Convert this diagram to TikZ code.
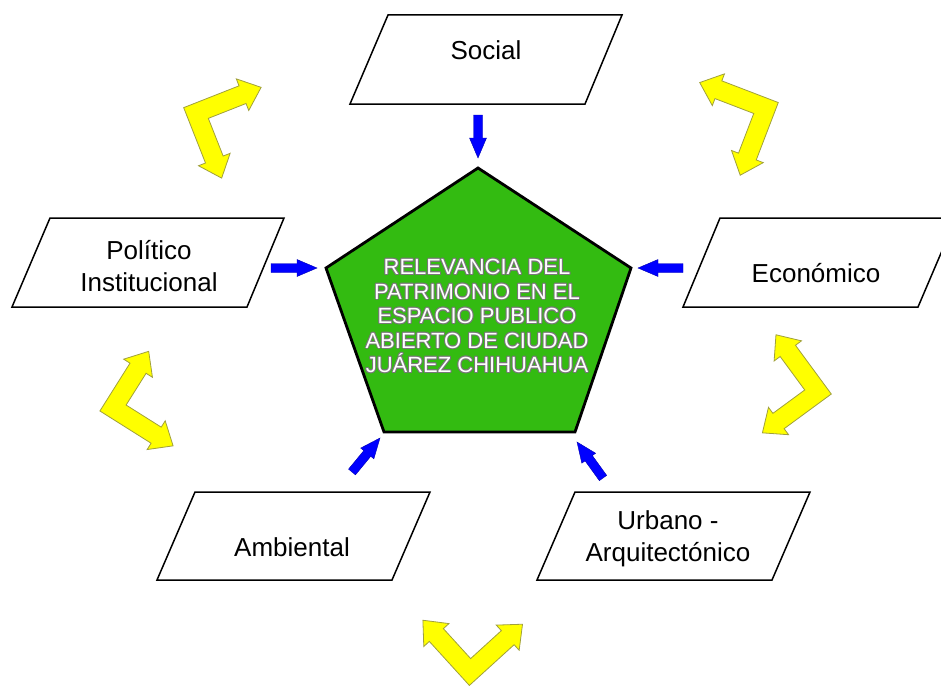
\documentclass[tikz,border=0pt]{standalone}
\usepackage{fontspec}
\setmainfont{Liberation Sans}
\usetikzlibrary{calc}
\definecolor{pgreen}{RGB}{51,187,17}
\definecolor{yfill}{RGB}{255,255,0}
\definecolor{yedge}{RGB}{160,160,60}
\definecolor{tedge}{RGB}{120,120,120}
\newcommand\ocopy[3]{\makebox[0pt][l]{\kern#1\raisebox{#2}{\textcolor{tedge}{#3}}}}
\newcommand\outl[1]{\ocopy{1pt}{0pt}{#1}\ocopy{-1pt}{0pt}{#1}\ocopy{0pt}{1pt}{#1}\ocopy{0pt}{-1pt}{#1}\ocopy{0.7pt}{0.7pt}{#1}\ocopy{-0.7pt}{0.7pt}{#1}\ocopy{0.7pt}{-0.7pt}{#1}\ocopy{-0.7pt}{-0.7pt}{#1}\textcolor{white}{#1}}
\tikzset{
  box/.style={draw=black, line width=1.5pt, line join=miter, fill=white},
  lbl/.style={inner sep=0pt, align=center, font=\fontsize{26}{31.5}\selectfont},
  pent/.style={draw=black, line width=2.8pt, fill=pgreen, line join=miter},
  ptext/.style={inner sep=0pt, align=center, font=\fontsize{22}{24.5}\selectfont},
  yarrow/.style={fill=yfill, draw=yedge, line width=0.8pt, line join=miter},
  barrow/.style={fill=blue, draw=blue!70!black, line width=0.4pt, line join=miter}
}
\newcommand\bentarrow[6]{%
\begin{scope}[shift={(#1,#2)}, y=1pt, rotate=#3, yscale=#4]
\draw[yarrow] (-9.5,9.5) -- ({#5-20},9.5) -- ({#5-20},17) -- (#5,0) -- ({#5-20},-17) -- ({#5-20},-9.5) -- (9.5,-9.5) -- (9.5,{-(#6-20)}) -- (17,{-(#6-20)}) -- (0,-#6) -- (-17,{-(#6-20)}) -- (-9.5,{-(#6-20)}) -- cycle;
\end{scope}}
\newcommand\blockarrow[2]{%
\coordinate (hb) at ($(#2)!20pt!(#1)$);
\draw[barrow] ($(#1)!4.5pt!-90:(#2)$) -- ($(hb)!4.5pt!-90:(#2)$) -- ($(hb)!8.5pt!-90:(#2)$) -- (#2) -- ($(hb)!8.5pt!90:(#2)$) -- ($(hb)!4.5pt!90:(#2)$) -- ($(#1)!4.5pt!90:(#2)$) -- cycle;}
\begin{document}
\begin{tikzpicture}[x=1pt, y=-1pt]
\useasboundingbox (0,0) rectangle (941,685);
\begin{scope}
\clip (0,0) rectangle (941,685);
% parallelograms
\draw[box] (388,15) -- (622,15) -- (585,104) -- (350,104) -- cycle;
\draw[box] (50,218) -- (284,218) -- (247,307) -- (12,307) -- cycle;
\draw[box] (720,218) -- (956,218) -- (918,307) -- (683,307) -- cycle;
\draw[box] (195,492) -- (430,492) -- (392,580) -- (157,580) -- cycle;
\draw[box] (575,492) -- (810,492) -- (772,580) -- (537,580) -- cycle;
\end{scope}
\node[lbl] (social) at (486,50) {Social};
\node[lbl] (politico) at (149,266) {Político\\Institucional};
\node[lbl] (economico) at (816,273) {Económico};
\node[lbl] (ambiental) at (292,547) {Ambiental};
\node[lbl] (urbano) at (668,539) {Urbano -\\Arquitectónico};
% pentagon
\coordinate (p1) at (478,168);
\coordinate (p2) at (631,268);
\coordinate (p3) at (575,432);
\coordinate (p4) at (384,432);
\coordinate (p5) at (326,268);
\draw[pent] (p1) -- (p2) -- (p3) -- (p4) -- (p5) -- cycle;
\node[ptext] (centro) at (477,316) {\outl{RELEVANCIA DEL}\\\outl{PATRIMONIO EN EL}\\\outl{ESPACIO PUBLICO}\\\outl{ABIERTO DE CIUDAD}\\\outl{JUÁREZ CHIHUAHUA}};
% blue arrows
\coordinate (a1) at (478,115); \coordinate (b1) at (478,158);
\coordinate (a2) at (271,268); \coordinate (b2) at (317,268);
\coordinate (a3) at (683,268); \coordinate (b3) at (638,268);
\coordinate (a4) at (352,472); \coordinate (b4) at (380,438);
\coordinate (a5) at (603,478); \coordinate (b5) at (577,442);
\blockarrow{a1}{b1}
\blockarrow{a2}{b2}
\blockarrow{a3}{b3}
\blockarrow{a4}{b4}
\blockarrow{a5}{b5}
% yellow bent arrows
\bentarrow{196}{113}{21.5}{1}{70}{70}
\bentarrow{766}{108}{159}{-1}{71}{72}
\bentarrow{113}{408}{57.8}{1}{67}{71}
\bentarrow{818}{392}{126.3}{-1}{71}{69}
\bentarrow{470}{672}{42.3}{-1}{71}{70}
\end{tikzpicture}
\end{document}
